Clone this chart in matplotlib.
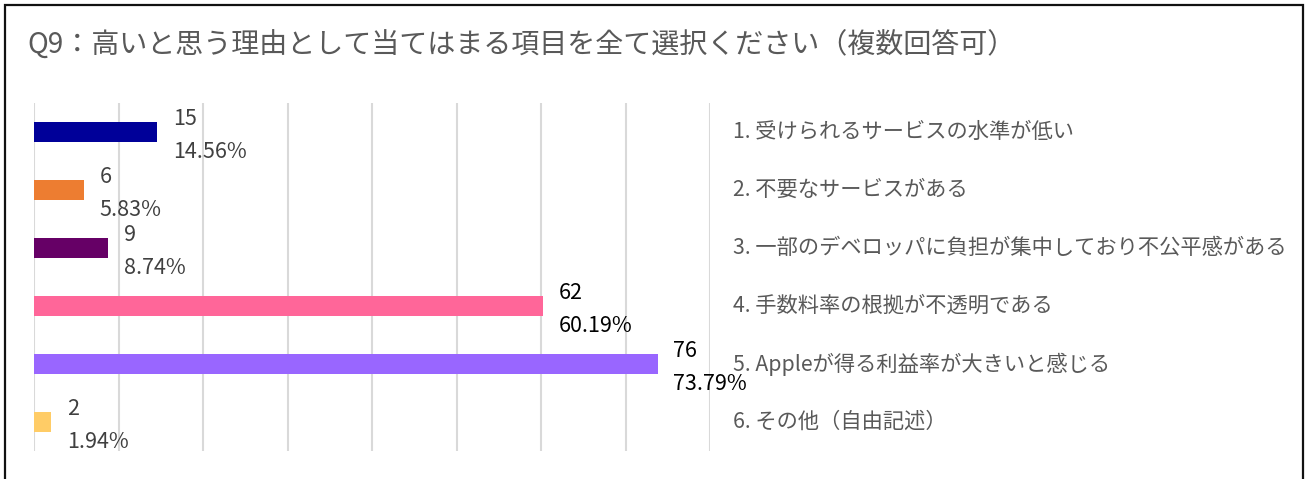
import matplotlib.pyplot as plt
from matplotlib.patches import Rectangle

plt.rcParams['font.family'] = ['Noto Sans CJK JP', 'DejaVu Sans']

title = "Q9：高いと思う理由として当てはまる項目を全て選択ください（複数回答可）"
items = ["1. 受けられるサービスの水準が低い",
         "2. 不要なサービスがある",
         "3. 一部のデベロッパに負担が集中しており不公平感がある",
         "4. 手数料率の根拠が不透明である",
         "5. Appleが得る利益率が大きいと感じる",
         "6. その他（自由記述）"]
counts = [15, 6, 9, 62, 76, 2]
pcts = [14.56, 5.83, 8.74, 60.19, 73.79, 1.94]
colors = ['#000099', '#ED7D31', '#660066', '#FF6699', '#9966FF', '#FFCC66']
label_colors = ['#404040', '#404040', '#404040', '#000000', '#000000', '#404040']

fig = plt.figure(figsize=(13.06, 4.79), dpi=100)
ax = fig.add_axes([0.0264, 0.0585, 0.5172, 0.7265])

ypos = list(range(len(items)))
ax.barh(ypos, pcts, height=0.36, color=colors, zorder=3)

for y, c, p, lc in zip(ypos, counts, pcts, label_colors):
    ax.annotate(f"{c}\n{p:.2f}%", xy=(p, y), xytext=(11.5, -2.5),
                textcoords='offset points', ha='left', va='center',
                fontsize=15.5, color=lc, linespacing=1.62,
                annotation_clip=False, zorder=4)

# category names to the right of the plot area
for y, name in zip(ypos, items):
    ax.text(1.034, y, name, transform=ax.get_yaxis_transform(),
            ha='left', va='center', fontsize=15.3, color='#595959')

ax.set_xlim(0, 80)
ax.set_ylim(5.5, -0.5)
ax.set_xticks(range(0, 81, 10))
ax.set_yticks([])
ax.tick_params(axis='x', length=0, labelbottom=False)
ax.grid(axis='x', color='#d9d9d9', linewidth=1.5, zorder=0)
for s in ax.spines.values():
    s.set_visible(False)

fig.text(27 / 1306, 1 - 45 / 479, title, ha='left', va='center',
         fontsize=20.2, color='#595959')

# outer frame (open at the bottom)
fig.patches.append(Rectangle((5 / 1306, -0.05), 1298 / 1306, 1.05 - 5 / 479,
                             transform=fig.transFigure, fill=False,
                             edgecolor='#111111', linewidth=1.6))

fig.savefig('out.png', dpi=100)
